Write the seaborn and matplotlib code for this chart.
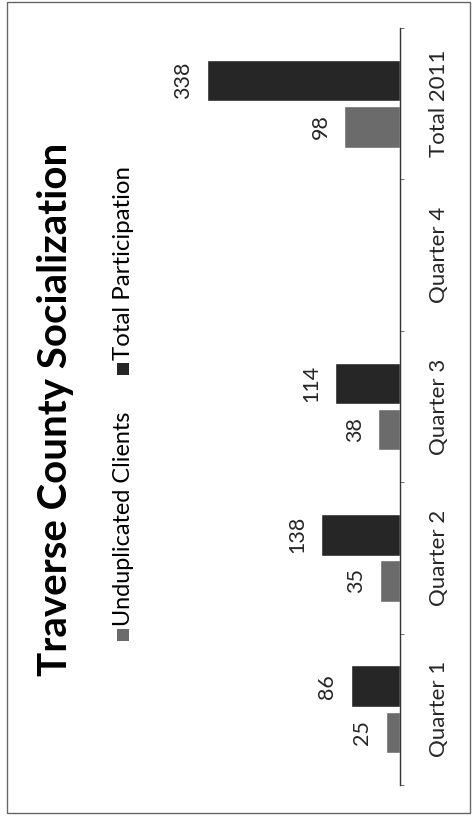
import matplotlib.pyplot as plt
import numpy as np
import pandas as pd
import seaborn as sns
from matplotlib.patches import Rectangle

categories = ['Quarter 1', 'Quarter 2', 'Quarter 3', 'Quarter 4', 'Total 2011']
series = ['Unduplicated Clients', 'Total Participation']
unduplicated = [25, 35, 38, np.nan, 98]
participation = [86, 138, 114, np.nan, 338]
colors = ['#6b6b6b', '#262626']
title = 'Traverse County Socialization'

df = pd.DataFrame({
    'Category': categories * 2,
    'Series': [s for s in series for _ in categories],
    'Value': unduplicated + participation,
})

sns.set_style('white')
plt.rcParams['font.family'] = ['Lato', 'DejaVu Sans']

W, H = 476, 818
fig = plt.figure(figsize=(W / 100, H / 100), dpi=100)
fig.patch.set_facecolor('white')

# the whole chart is turned 90 degrees counter-clockwise: bars grow to the left
ax = fig.add_axes([160 / W, 1 - 785 / H, 240 / W, 757 / H])
sns.barplot(data=df, y='Category', x='Value', hue='Series', order=categories,
            hue_order=series, palette=colors, orient='h', width=0.61, gap=0.1,
            saturation=1, legend=False, ax=ax)
ax.set_ylim(-0.5, len(categories) - 0.5)
ax.set_xlim(420, 0)

for cont in ax.containers:
    labels = ax.bar_label(cont, fmt='%d', padding=17, rotation=90, fontsize=15.5)
    for t in labels:
        t.set_ha('center')
        t.set_va('center')

# category axis on the right
for side in ['left', 'top', 'bottom']:
    ax.spines[side].set_visible(False)
ax.spines['right'].set_color('#333333')
ax.spines['right'].set_linewidth(1)
ax.set_xticks([])
ax.yaxis.tick_right()
ax.set_yticks(range(len(categories)))
ax.set_yticklabels(categories, rotation=90, va='center', fontsize=16)
ax.set_yticks(np.arange(-0.5, len(categories)), minor=True)
ax.tick_params(axis='y', which='major', length=0, pad=21)
ax.tick_params(axis='y', which='minor', length=3, direction='out', color='#555555')
ax.set_xlabel('')
ax.set_ylabel('')

# title and legend, rotated like the chart
fig.text(56 / W, 1 - 409 / H, title, rotation=90, ha='center', va='center',
         fontsize=29, fontweight='bold', color='black')
legend_pos = [635, 369]
legend_size = [16.8, 17.3]
for name, col, yp, fs in zip(series, colors, legend_pos, legend_size):
    fig.add_artist(Rectangle(((123 - 6) / W, 1 - (yp + 6) / H), 12 / W, 12 / H,
                             transform=fig.transFigure, facecolor=col, edgecolor='none'))
    fig.text(123 / W, 1 - (yp - 9) / H, name, rotation=90, ha='center', va='bottom',
             fontsize=fs, color='black')

# outer frame
fig.add_artist(Rectangle((7 / W, 1 - 813 / H), 463 / W, 811 / H, transform=fig.transFigure,
                         fill=False, edgecolor='#666666', linewidth=1))

fig.savefig('out.png', dpi=100)
